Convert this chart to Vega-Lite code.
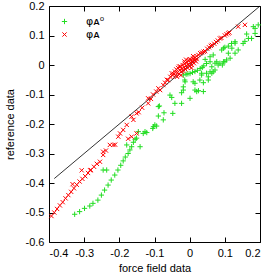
{
  "$schema": "https://vega.github.io/schema/vega-lite/v6.json",
  "width": 211,
  "height": 236,
  "autosize": {"type": "none"},
  "padding": {"left": 49, "top": 6, "right": 10, "bottom": 30},
  "background": "white",
  "config": {
    "font": "Liberation Sans",
    "view": {"stroke": "black", "strokeWidth": 1},
    "axis": {
      "grid": false,
      "domain": false,
      "tickSize": -5,
      "tickColor": "black",
      "labelColor": "black",
      "labelFontSize": 11,
      "labelFont": "Liberation Sans",
      "titleFont": "Liberation Sans",
      "titleFontSize": 11,
      "titleFontWeight": "normal",
      "titleColor": "black",
      "labelPadding": 10
    }
  },
  "datasets": {
    "diag": [{"x": -0.385, "y": -0.385}, {"x": 0.2, "y": 0.2}],
    "pts": [
      {"s": "φᴀ⁰", "x": -0.327, "y": -0.506}, {"s": "φᴀ⁰", "x": -0.313, "y": -0.497}, {"s": "φᴀ⁰", "x": -0.299, "y": -0.486},
      {"s": "φᴀ⁰", "x": -0.284, "y": -0.478}, {"s": "φᴀ⁰", "x": -0.275, "y": -0.469}, {"s": "φᴀ⁰", "x": -0.261, "y": -0.458},
      {"s": "φᴀ⁰", "x": -0.251, "y": -0.441}, {"s": "φᴀ⁰", "x": -0.242, "y": -0.424}, {"s": "φᴀ⁰", "x": -0.232, "y": -0.407},
      {"s": "φᴀ⁰", "x": -0.223, "y": -0.39}, {"s": "φᴀ⁰", "x": -0.213, "y": -0.373}, {"s": "φᴀ⁰", "x": -0.204, "y": -0.356},
      {"s": "φᴀ⁰", "x": -0.196, "y": -0.34}, {"s": "φᴀ⁰", "x": -0.189, "y": -0.325}, {"s": "φᴀ⁰", "x": -0.183, "y": -0.312},
      {"s": "φᴀ⁰", "x": -0.175, "y": -0.3}, {"s": "φᴀ⁰", "x": -0.17, "y": -0.288}, {"s": "φᴀ⁰", "x": -0.165, "y": -0.277},
      {"s": "φᴀ⁰", "x": -0.16, "y": -0.262}, {"s": "φᴀ⁰", "x": -0.155, "y": -0.252}, {"s": "φᴀ⁰", "x": -0.246, "y": -0.356},
      {"s": "φᴀ⁰", "x": -0.236, "y": -0.356}, {"s": "φᴀ⁰", "x": -0.179, "y": -0.271}, {"s": "φᴀ⁰", "x": -0.141, "y": -0.277},
      {"s": "φᴀ⁰", "x": -0.151, "y": -0.248}, {"s": "φᴀ⁰", "x": -0.132, "y": -0.232}, {"s": "φᴀ⁰", "x": -0.122, "y": -0.229},
      {"s": "φᴀ⁰", "x": -0.146, "y": -0.226}, {"s": "φᴀ⁰", "x": -0.127, "y": -0.226}, {"s": "φᴀ⁰", "x": -0.105, "y": -0.215},
      {"s": "φᴀ⁰", "x": -0.103, "y": -0.209}, {"s": "φᴀ⁰", "x": -0.099, "y": -0.203}, {"s": "φᴀ⁰", "x": -0.094, "y": -0.207},
      {"s": "φᴀ⁰", "x": -0.089, "y": -0.173}, {"s": "φᴀ⁰", "x": -0.075, "y": -0.186}, {"s": "φᴀ⁰", "x": -0.073, "y": -0.162},
      {"s": "φᴀ⁰", "x": -0.048, "y": -0.164}, {"s": "φᴀ⁰", "x": -0.086, "y": -0.139}, {"s": "φᴀ⁰", "x": -0.089, "y": -0.141},
      {"s": "φᴀ⁰", "x": -0.042, "y": -0.13}, {"s": "φᴀ⁰", "x": -0.051, "y": -0.11}, {"s": "φᴀ⁰", "x": -0.023, "y": -0.13},
      {"s": "φᴀ⁰", "x": -0.056, "y": -0.102}, {"s": "φᴀ⁰", "x": 0.001, "y": -0.113}, {"s": "φᴀ⁰", "x": -0.023, "y": -0.094},
      {"s": "φᴀ⁰", "x": -0.018, "y": -0.085}, {"s": "φᴀ⁰", "x": -0.018, "y": -0.074}, {"s": "φᴀ⁰", "x": 0.015, "y": -0.085},
      {"s": "φᴀ⁰", "x": 0.025, "y": -0.087}, {"s": "φᴀ⁰", "x": -0.013, "y": -0.057}, {"s": "φᴀ⁰", "x": 0.01, "y": -0.057},
      {"s": "φᴀ⁰", "x": 0.039, "y": -0.06}, {"s": "φᴀ⁰", "x": 0.039, "y": -0.09}, {"s": "φᴀ⁰", "x": 0.02, "y": -0.09},
      {"s": "φᴀ⁰", "x": 0.015, "y": -0.062}, {"s": "φᴀ⁰", "x": 0.029, "y": -0.051}, {"s": "φᴀ⁰", "x": 0.053, "y": -0.04},
      {"s": "φᴀ⁰", "x": 0.053, "y": -0.051}, {"s": "φᴀ⁰", "x": 0.034, "y": -0.034}, {"s": "φᴀ⁰", "x": 0.034, "y": -0.028},
      {"s": "φᴀ⁰", "x": -0.014, "y": -0.051}, {"s": "φᴀ⁰", "x": -0.018, "y": -0.034}, {"s": "φᴀ⁰", "x": -0.01, "y": -0.031},
      {"s": "φᴀ⁰", "x": -0.005, "y": -0.03}, {"s": "φᴀ⁰", "x": 0.001, "y": -0.029}, {"s": "φᴀ⁰", "x": 0.008, "y": -0.025},
      {"s": "φᴀ⁰", "x": 0.015, "y": -0.022}, {"s": "φᴀ⁰", "x": 0.022, "y": -0.018}, {"s": "φᴀ⁰", "x": 0.03, "y": -0.012},
      {"s": "φᴀ⁰", "x": 0.036, "y": -0.008}, {"s": "φᴀ⁰", "x": 0.04, "y": -0.003}, {"s": "φᴀ⁰", "x": 0.048, "y": 0.005},
      {"s": "φᴀ⁰", "x": 0.044, "y": 0.019}, {"s": "φᴀ⁰", "x": 0.058, "y": 0.011}, {"s": "φᴀ⁰", "x": 0.058, "y": 0.028},
      {"s": "φᴀ⁰", "x": 0.063, "y": -0.006}, {"s": "φᴀ⁰", "x": 0.067, "y": -0.023}, {"s": "φᴀ⁰", "x": 0.067, "y": 0.034},
      {"s": "φᴀ⁰", "x": 0.072, "y": 0.006}, {"s": "φᴀ⁰", "x": 0.077, "y": 0.011}, {"s": "φᴀ⁰", "x": 0.091, "y": 0.051},
      {"s": "φᴀ⁰", "x": 0.1, "y": 0.06}, {"s": "φᴀ⁰", "x": 0.11, "y": 0.064}, {"s": "φᴀ⁰", "x": 0.119, "y": 0.073},
      {"s": "φᴀ⁰", "x": 0.129, "y": 0.079}, {"s": "φᴀ⁰", "x": 0.152, "y": 0.073}, {"s": "φᴀ⁰", "x": 0.157, "y": 0.08},
      {"s": "φᴀ⁰", "x": 0.162, "y": 0.105}, {"s": "φᴀ⁰", "x": 0.176, "y": 0.09}, {"s": "φᴀ⁰", "x": 0.186, "y": 0.107},
      {"s": "φᴀ⁰", "x": 0.186, "y": 0.124}, {"s": "φᴀ⁰", "x": 0.195, "y": 0.136}, {"s": "φᴀ⁰", "x": 0.181, "y": 0.13},
      {"s": "φᴀ⁰", "x": 0.048, "y": -0.028}, {"s": "φᴀ⁰", "x": 0.058, "y": -0.023}, {"s": "φᴀ⁰", "x": 0.072, "y": -0.017},
      {"s": "φᴀ⁰", "x": 0.086, "y": 0.006}, {"s": "φᴀ⁰", "x": 0.1, "y": 0.011}, {"s": "φᴀ⁰", "x": 0.115, "y": 0.023},
      {"s": "φᴀ⁰", "x": 0.129, "y": 0.04}, {"s": "φᴀ⁰", "x": 0.138, "y": 0.051}, {"s": "φᴀ⁰", "x": 0.11, "y": 0.04},
      {"s": "φᴀ⁰", "x": 0.12, "y": 0.057}, {"s": "φᴀ⁰", "x": 0.129, "y": 0.074}, {"s": "φᴀ⁰", "x": 0.167, "y": 0.09},
      {"s": "φᴀ⁰", "x": 0.096, "y": 0.057}, {"s": "φᴀ⁰", "x": 0.081, "y": 0.0}, {"s": "φᴀ⁰", "x": 0.093, "y": 0.0},
      {"s": "φᴀ⁰", "x": 0.105, "y": 0.017}, {"s": "φᴀ⁰", "x": 0.063, "y": -0.028}, {"s": "φᴀ⁰", "x": 0.096, "y": 0.011},
      {"s": "φᴀ", "x": -0.393, "y": -0.512}, {"s": "φᴀ", "x": -0.385, "y": -0.5}, {"s": "φᴀ", "x": -0.377, "y": -0.488},
      {"s": "φᴀ", "x": -0.369, "y": -0.476}, {"s": "φᴀ", "x": -0.361, "y": -0.465}, {"s": "φᴀ", "x": -0.353, "y": -0.452},
      {"s": "φᴀ", "x": -0.345, "y": -0.441}, {"s": "φᴀ", "x": -0.337, "y": -0.43}, {"s": "φᴀ", "x": -0.329, "y": -0.418},
      {"s": "φᴀ", "x": -0.321, "y": -0.406}, {"s": "φᴀ", "x": -0.313, "y": -0.395}, {"s": "φᴀ", "x": -0.305, "y": -0.386},
      {"s": "φᴀ", "x": -0.297, "y": -0.377}, {"s": "φᴀ", "x": -0.289, "y": -0.366}, {"s": "φᴀ", "x": -0.281, "y": -0.356},
      {"s": "φᴀ", "x": -0.333, "y": -0.404}, {"s": "φᴀ", "x": -0.307, "y": -0.357}, {"s": "φᴀ", "x": -0.283, "y": -0.357},
      {"s": "φᴀ", "x": -0.272, "y": -0.345}, {"s": "φᴀ", "x": -0.264, "y": -0.335}, {"s": "φᴀ", "x": -0.255, "y": -0.328},
      {"s": "φᴀ", "x": -0.246, "y": -0.305}, {"s": "φᴀ", "x": -0.246, "y": -0.294}, {"s": "φᴀ", "x": -0.238, "y": -0.29},
      {"s": "φᴀ", "x": -0.227, "y": -0.271}, {"s": "φᴀ", "x": -0.217, "y": -0.271}, {"s": "φᴀ", "x": -0.212, "y": -0.27},
      {"s": "φᴀ", "x": -0.203, "y": -0.243}, {"s": "φᴀ", "x": -0.198, "y": -0.232}, {"s": "φᴀ", "x": -0.189, "y": -0.22},
      {"s": "φᴀ", "x": -0.179, "y": -0.203}, {"s": "φᴀ", "x": -0.175, "y": -0.25}, {"s": "φᴀ", "x": -0.165, "y": -0.243},
      {"s": "φᴀ", "x": -0.151, "y": -0.232}, {"s": "φᴀ", "x": -0.165, "y": -0.175}, {"s": "φᴀ", "x": -0.16, "y": -0.186},
      {"s": "φᴀ", "x": -0.151, "y": -0.164}, {"s": "φᴀ", "x": -0.145, "y": -0.16}, {"s": "φᴀ", "x": -0.135, "y": -0.145},
      {"s": "φᴀ", "x": -0.118, "y": -0.13}, {"s": "φᴀ", "x": -0.118, "y": -0.113}, {"s": "φᴀ", "x": -0.11, "y": -0.115},
      {"s": "φᴀ", "x": -0.104, "y": -0.1}, {"s": "φᴀ", "x": -0.095, "y": -0.09}, {"s": "φᴀ", "x": -0.089, "y": -0.079},
      {"s": "φᴀ", "x": -0.084, "y": -0.085}, {"s": "φᴀ", "x": -0.075, "y": -0.068}, {"s": "φᴀ", "x": -0.07, "y": -0.06},
      {"s": "φᴀ", "x": -0.065, "y": -0.05}, {"s": "φᴀ", "x": -0.061, "y": -0.051}, {"s": "φᴀ", "x": -0.055, "y": -0.04},
      {"s": "φᴀ", "x": -0.051, "y": -0.028}, {"s": "φᴀ", "x": -0.048, "y": -0.035}, {"s": "φᴀ", "x": -0.045, "y": -0.03},
      {"s": "φᴀ", "x": -0.042, "y": -0.022}, {"s": "φᴀ", "x": -0.04, "y": -0.035}, {"s": "φᴀ", "x": -0.038, "y": -0.015},
      {"s": "φᴀ", "x": -0.035, "y": -0.025}, {"s": "φᴀ", "x": -0.033, "y": -0.01}, {"s": "φᴀ", "x": -0.03, "y": -0.03},
      {"s": "φᴀ", "x": -0.028, "y": -0.018}, {"s": "φᴀ", "x": -0.026, "y": -0.005}, {"s": "φᴀ", "x": -0.024, "y": -0.022},
      {"s": "φᴀ", "x": -0.022, "y": -0.012}, {"s": "φᴀ", "x": -0.02, "y": 0.0}, {"s": "φᴀ", "x": -0.018, "y": -0.02},
      {"s": "φᴀ", "x": -0.016, "y": -0.008}, {"s": "φᴀ", "x": -0.014, "y": 0.005}, {"s": "φᴀ", "x": -0.012, "y": -0.015},
      {"s": "φᴀ", "x": -0.01, "y": -0.003}, {"s": "φᴀ", "x": -0.008, "y": 0.01}, {"s": "φᴀ", "x": -0.006, "y": -0.01},
      {"s": "φᴀ", "x": -0.004, "y": 0.002}, {"s": "φᴀ", "x": -0.002, "y": 0.015}, {"s": "φᴀ", "x": 0.0, "y": -0.005},
      {"s": "φᴀ", "x": 0.002, "y": 0.008}, {"s": "φᴀ", "x": 0.004, "y": 0.018}, {"s": "φᴀ", "x": 0.006, "y": 0.0},
      {"s": "φᴀ", "x": 0.008, "y": 0.012}, {"s": "φᴀ", "x": 0.01, "y": 0.022}, {"s": "φᴀ", "x": 0.012, "y": 0.006},
      {"s": "φᴀ", "x": 0.014, "y": 0.016}, {"s": "φᴀ", "x": 0.016, "y": 0.025}, {"s": "φᴀ", "x": 0.018, "y": 0.012},
      {"s": "φᴀ", "x": 0.02, "y": 0.02}, {"s": "φᴀ", "x": -0.03, "y": -0.005}, {"s": "φᴀ", "x": -0.015, "y": 0.012},
      {"s": "φᴀ", "x": 0.0, "y": 0.02}, {"s": "φᴀ", "x": -0.036, "y": -0.04}, {"s": "φᴀ", "x": -0.025, "y": -0.035},
      {"s": "φᴀ", "x": 0.005, "y": -0.01}, {"s": "φᴀ", "x": -0.01, "y": 0.018}, {"s": "φᴀ", "x": 0.01, "y": 0.03},
      {"s": "φᴀ", "x": 0.02, "y": 0.03}, {"s": "φᴀ", "x": 0.025, "y": 0.034}, {"s": "φᴀ", "x": 0.03, "y": 0.04},
      {"s": "φᴀ", "x": 0.035, "y": 0.042}, {"s": "φᴀ", "x": 0.04, "y": 0.045}, {"s": "φᴀ", "x": 0.044, "y": 0.047},
      {"s": "φᴀ", "x": 0.05, "y": 0.055}, {"s": "φᴀ", "x": 0.055, "y": 0.06}, {"s": "φᴀ", "x": 0.06, "y": 0.065},
      {"s": "φᴀ", "x": 0.063, "y": 0.068}, {"s": "φᴀ", "x": 0.07, "y": 0.072}, {"s": "φᴀ", "x": 0.075, "y": 0.078},
      {"s": "φᴀ", "x": 0.08, "y": 0.083}, {"s": "φᴀ", "x": 0.086, "y": 0.09}, {"s": "φᴀ", "x": 0.09, "y": 0.092},
      {"s": "φᴀ", "x": 0.1, "y": 0.1}, {"s": "φᴀ", "x": 0.105, "y": 0.104}, {"s": "φᴀ", "x": 0.11, "y": 0.107},
      {"s": "φᴀ", "x": 0.113, "y": 0.11}, {"s": "φᴀ", "x": 0.138, "y": 0.13}, {"s": "φᴀ", "x": 0.157, "y": 0.136}
    ]
  },
  "layer": [
    {
      "data": {"name": "diag"},
      "mark": {"type": "line", "color": "black", "strokeWidth": 0.8},
      "encoding": {
        "x": {"field": "x", "type": "quantitative", "scale": {"domain": [-0.4, 0.2], "nice": false, "zero": false},
              "axis": {"orient": "top", "labels": false, "title": null, "values": [-0.4, -0.3, -0.2, -0.1, 0, 0.1, 0.2]}},
        "y": {"field": "y", "type": "quantitative", "scale": {"domain": [-0.6, 0.2], "nice": false, "zero": false},
              "axis": {"orient": "right", "labels": false, "title": null, "values": [-0.6, -0.5, -0.4, -0.3, -0.2, -0.1, 0, 0.1, 0.2]}}
      }
    },
    {
      "data": {"name": "pts"},
      "mark": {"type": "point", "filled": false, "strokeWidth": 1, "size": 28, "opacity": 1},
      "encoding": {
        "x": {"field": "x", "type": "quantitative", "scale": {"domain": [-0.4, 0.2], "nice": false, "zero": false},
              "axis": {"orient": "bottom", "title": "force field data", "titlePadding": 4, "values": [-0.4, -0.3, -0.2, -0.1, 0, 0.1, 0.2],
                       "labelExpr": "datum.value == 0 ? '0' : toString(round(datum.value*10)/10)"}},
        "y": {"field": "y", "type": "quantitative", "scale": {"domain": [-0.6, 0.2], "nice": false, "zero": false},
              "axis": {"orient": "left", "title": "reference data", "titlePadding": 10, "values": [-0.6, -0.5, -0.4, -0.3, -0.2, -0.1, 0, 0.1, 0.2],
                       "labelExpr": "datum.value == 0 ? '0' : toString(round(datum.value*10)/10)"}},
        "color": {"field": "s", "type": "nominal",
                  "scale": {"domain": ["φᴀ⁰", "φᴀ"], "range": ["#22dd22", "#ff0000"]},
                  "legend": {"orient": "top-left", "title": null, "offset": 10, "padding": 0, "labelFontSize": 11, "labelColor": "black",
                             "labelOffset": 16, "rowPadding": 1, "symbolStrokeWidth": 1, "symbolSize": 28, "labelFont": "DejaVu Sans"}},
        "shape": {"field": "s", "type": "nominal",
                  "scale": {"domain": ["φᴀ⁰", "φᴀ"], "range": ["M-1,0L1,0M0,-1L0,1", "M-0.8,-0.8L0.8,0.8M-0.8,0.8L0.8,-0.8"]},
                  "legend": {"orient": "top-left", "title": null}}
      }
    }
  ],
  "resolve": {"axis": {"x": "independent", "y": "independent"}}
}
